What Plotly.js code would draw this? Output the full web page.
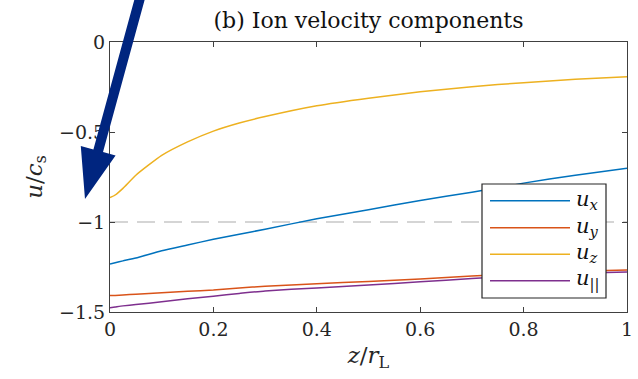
<!DOCTYPE html>
<html>
<head>
<meta charset="utf-8">
<script src="https://cdn.plot.ly/plotly-3.0.1.min.js"></script>
<style>html,body{margin:0;padding:0;background:#fff;}</style>
</head>
<body>
<div id="chart" style="width:638px;height:379px;"></div>
<script>
// ---- data ----
const zGrid = [0, 0.01, 0.025, 0.05, 0.1, 0.15, 0.2, 0.25, 0.3, 0.4, 0.5, 0.6, 0.7, 0.8, 0.9, 1.0];
const uX   = [-1.233, -1.226, -1.216, -1.200, -1.160, -1.128, -1.096, -1.068, -1.040, -0.982, -0.932, -0.880, -0.835, -0.784, -0.740, -0.702];
const uY   = [-1.409, -1.408, -1.405, -1.401, -1.393, -1.385, -1.378, -1.367, -1.357, -1.343, -1.330, -1.316, -1.300, -1.286, -1.274, -1.267];
const uZ   = [-0.865, -0.850, -0.813, -0.740, -0.630, -0.555, -0.495, -0.450, -0.414, -0.354, -0.312, -0.277, -0.248, -0.226, -0.207, -0.193];
const uPar = [-1.476, -1.472, -1.466, -1.459, -1.443, -1.427, -1.412, -1.397, -1.383, -1.366, -1.350, -1.332, -1.314, -1.297, -1.285, -1.278];
const seriesNames  = ['<i>u</i><sub><i>x</i></sub>', '<i>u</i><sub><i>y</i></sub>', '<i>u</i><sub><i>z</i></sub>', '<i>u</i><sub>||</sub>'];
const seriesValues = [uX, uY, uZ, uPar];
const seriesColors = ['#0072BD', '#D95319', '#EDB120', '#7E2F8E'];
const refLevel = -1;
const xTicks = [0, 0.2, 0.4, 0.6, 0.8, 1];
const yTicks = [-1.5, -1, -0.5, 0];
const yTickText = ['\u22121.5', '\u22121', '\u22120.5', '0'];

// ---- layout constants ----
const W = 638, H = 379;
const M = {l: 110, r: 11, t: 42, b: 67};
const pw = W - M.l - M.r, ph = H - M.t - M.b;
const toPaper = (px, py) => [(px - M.l) / pw, (H - M.b - py) / ph];
const font = 'DejaVu Serif, Liberation Serif, serif';
const axisColor = '#404040';

const traces = seriesValues.map((v, i) => ({
  x: zGrid, y: v, type: 'scatter', mode: 'lines', name: seriesNames[i], showlegend: false,
  line: {color: seriesColors[i], width: 1.5, shape: 'spline', smoothing: 0.5}
}));

// big annotation arrow (pixel geometry -> paper)
const arrowPx = [[144.8,-0.7],[103.0,152.1],[115.6,155.6],[85,199],[80.8,146.0],[93.4,149.5],[135.2,-3.3]];
const arrowPath = arrowPx.map((p, i) => {
  const q = toPaper(p[0], p[1]);
  return (i === 0 ? 'M' : 'L') + q[0].toFixed(4) + ',' + q[1].toFixed(4);
}).join(' ') + ' Z';

// legend box drawn in the MATLAB style
const legBox = {x0: 482, x1: 606, y0: 184, y1: 298};
const legRowY = [200.7, 227.7, 254.2, 280.7];
const shapes = [
  {type: 'line', xref: 'paper', yref: 'y', x0: 0, x1: 1, y0: refLevel, y1: refLevel,
   line: {color: '#c8c8c8', width: 1.5, dash: '18px,9px'}, layer: 'below'}
];
(function () {
  const a = toPaper(legBox.x0, legBox.y0), b = toPaper(legBox.x1, legBox.y1);
  shapes.push({type: 'rect', xref: 'paper', yref: 'paper', x0: a[0], y0: a[1], x1: b[0], y1: b[1],
    fillcolor: '#fff', line: {color: '#262626', width: 1.2}, layer: 'above'});
})();
const annotations = [];
seriesNames.forEach((nm, i) => {
  const p0 = toPaper(490, legRowY[i]), p1 = toPaper(570, legRowY[i]);
  shapes.push({type: 'line', xref: 'paper', yref: 'paper', x0: p0[0], y0: p0[1], x1: p1[0], y1: p1[1],
    line: {color: seriesColors[i], width: 1.5}, layer: 'above'});
  const t = toPaper(574, legRowY[i] - 1);
  annotations.push({xref: 'paper', yref: 'paper', x: t[0], y: t[1], xanchor: 'left', yanchor: 'middle',
    text: nm, showarrow: false, font: {family: font, size: 21, color: '#111'}});
});
shapes.push({type: 'path', xref: 'paper', yref: 'paper', path: arrowPath,
  fillcolor: '#00257f', line: {width: 0}, layer: 'above'});

const axisCommon = {
  showgrid: false, zeroline: false, showline: true, linecolor: axisColor, linewidth: 1,
  mirror: 'ticks', ticks: 'inside', ticklen: 5, tickwidth: 1, tickcolor: axisColor,
  tickfont: {family: font, size: 19, color: '#262626'}
};

const layout = {
  width: W, height: H, margin: M,
  paper_bgcolor: '#fff', plot_bgcolor: '#fff',
  title: {text: '(b) Ion velocity components', font: {family: font, size: 22, color: '#111'},
          x: (M.l + pw / 2) / W, xanchor: 'center', y: 1 - 20 / H, yanchor: 'middle'},
  xaxis: Object.assign({}, axisCommon, {range: [0, 1], tickvals: xTicks, ticktext: xTicks.map(String),
    title: {text: '<i>z</i>/<i>r</i><sub>L</sub>', font: {family: font, size: 23, color: '#262626'}, standoff: 8}}),
  yaxis: Object.assign({}, axisCommon, {range: [-1.5, 0], tickvals: yTicks, ticktext: yTickText,
    title: {text: '<i>u</i>/<i>c</i><sub>s</sub>', font: {family: font, size: 23, color: '#262626'}, standoff: 10}}),
  showlegend: false,
  shapes: shapes,
  annotations: annotations
};

Plotly.newPlot('chart', traces, layout, {displayModeBar: false, staticPlot: true});
</script>
</body>
</html>
